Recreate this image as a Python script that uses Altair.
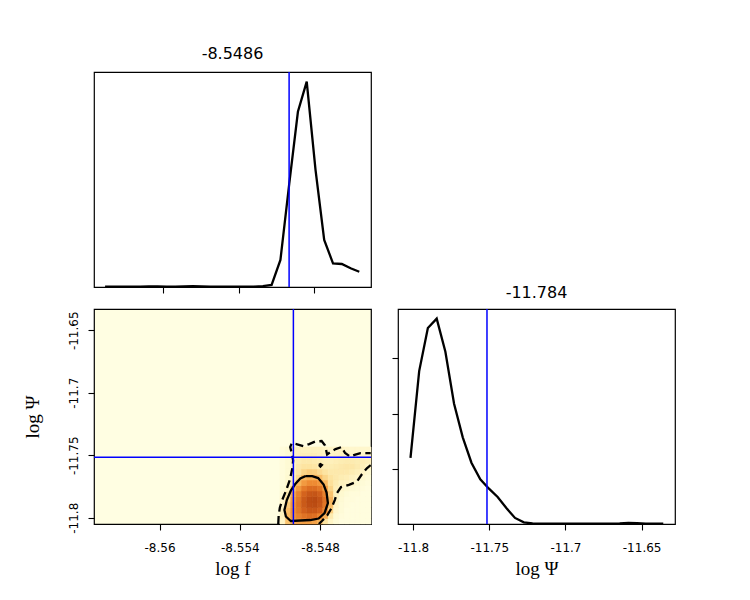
import altair as alt
import pandas as pd

# ---------------- marginal posterior of log f ----------------
logf_x = [-8.56463, -8.56393, -8.56324, -8.56254, -8.56184, -8.56115, -8.56045,
          -8.55975, -8.55905, -8.55836, -8.55766, -8.55696, -8.55627, -8.55557,
          -8.55487, -8.55418, -8.55348, -8.55278, -8.55208, -8.55139, -8.55069,
          -8.54999, -8.54930, -8.54860, -8.54790, -8.54721, -8.54651, -8.54581,
          -8.54511, -8.54442]
logf_density = [0.002, 0.002, 0.002, 0.002, 0.002, 0.003, 0.003, 0.002, 0.002,
                0.003, 0.004, 0.003, 0.002, 0.002, 0.002, 0.002, 0.002, 0.002,
                0.004, 0.010, 0.126, 0.480, 0.815, 0.955, 0.545, 0.219, 0.110,
                0.107, 0.087, 0.071]

# ---------------- marginal posterior of log Psi ----------------
logpsi_x = [-11.8017, -11.7960, -11.7903, -11.7845, -11.7788, -11.7731, -11.7674,
            -11.7617, -11.7559, -11.7502, -11.7445, -11.7388, -11.7331, -11.7273,
            -11.7216, -11.7159, -11.7102, -11.7045, -11.6987, -11.6930, -11.6873,
            -11.6816, -11.6759, -11.6701, -11.6644, -11.6587, -11.6530, -11.6473,
            -11.6415, -11.6358]
logpsi_density = [12.0, 27.7, 35.5, 37.2, 31.2, 21.8, 15.7, 11.1, 8.1, 6.4, 4.9,
                  2.9, 1.1, 0.3, 0.1, 0.05, 0.05, 0.05, 0.05, 0.05, 0.05, 0.05,
                  0.05, 0.05, 0.1, 0.2, 0.15, 0.05, 0.05, 0.05]

# ---------------- joint posterior (2D histogram) ----------------
cell_x_edges = [-8.5510, -8.5506, -8.5502, -8.5498, -8.5494, -8.5490, -8.5486,
                -8.5482, -8.5478, -8.5474, -8.5470, -8.5466, -8.5462, -8.5458,
                -8.5454, -8.5450, -8.5446, -8.5442]
cell_y_edges = [-11.8050, -11.8006, -11.7962, -11.7918, -11.7874, -11.7830,
                -11.7786, -11.7742, -11.7698, -11.7654, -11.7610, -11.7566,
                -11.7522, -11.7478, -11.7434]
# rows run from the lowest log Psi bin upwards, columns from left to right
joint_density = [
    [8, 30, 40, 44, 46, 46, 44, 36, 18, 8, 3, 1, 1, 1, 1, 1, 1],
    [10, 34, 50, 60, 68, 72, 70, 60, 38, 14, 4, 2, 1, 1, 1, 1, 1],
    [10, 32, 52, 66, 80, 88, 88, 80, 58, 26, 6, 3, 1, 1, 1, 1, 1],
    [8, 28, 50, 68, 86, 96, 98, 90, 66, 32, 8, 3, 2, 1, 1, 1, 1],
    [6, 22, 46, 66, 86, 97, 100, 92, 68, 34, 9, 4, 2, 2, 1, 1, 1],
    [4, 14, 40, 60, 78, 88, 90, 82, 60, 30, 10, 5, 3, 2, 2, 1, 1],
    [3, 8, 30, 48, 64, 72, 72, 66, 48, 24, 12, 7, 5, 4, 3, 2, 1],
    [2, 6, 14, 34, 48, 55, 55, 50, 34, 20, 14, 10, 9, 7, 5, 3, 2],
    [2, 5, 10, 22, 34, 38, 37, 32, 24, 18, 15, 13, 12, 10, 8, 5, 3],
    [2, 4, 9, 17, 24, 27, 26, 22, 18, 15, 15, 15, 15, 13, 11, 8, 5],
    [2, 4, 8, 15, 18, 18, 17, 14, 13, 13, 14, 15, 16, 16, 14, 11, 8],
    [2, 4, 8, 13, 15, 15, 14, 13, 11, 11, 12, 13, 14, 14, 13, 12, 11],
    [2, 4, 8, 11, 12, 12, 12, 11, 9, 8, 9, 10, 9, 8, 8, 8, 8],
    [2, 4, 9, 10, 10, 10, 10, 10, 8, 7, 8, 9, 7, 6, 6, 6, 6],
]

# credible-region contours of the joint posterior
inner_x = [-8.54908, -8.54859, -8.54815, -8.54774, -8.54752, -8.54742, -8.54767,
           -8.54811, -8.54874, -8.54948, -8.55019, -8.55056, -8.55067, -8.55049,
           -8.55019, -8.54986, -8.54948, -8.54908]
inner_y = [-11.76663, -11.76663, -11.76823, -11.77343, -11.77983, -11.78822,
           -11.79622, -11.80061, -11.80181, -11.80221, -11.80261, -11.79901,
           -11.79382, -11.78582, -11.77823, -11.77303, -11.76863, -11.76663]

outer_a_x = [-8.55113, -8.55110, -8.55101, -8.55082, -8.55052, -8.55026, -8.55008,
             -8.55002, -8.55011, -8.55024, -8.55011, -8.54978, -8.54926, -8.54882,
             -8.54837, -8.54789, -8.54763, -8.54748, -8.54718, -8.54685, -8.54640,
             -8.54614, -8.54577, -8.54537, -8.54499, -8.54422]
outer_a_y = [-11.80500, -11.79822, -11.79182, -11.78542, -11.77743, -11.76943,
             -11.76063, -11.75424, -11.74864, -11.74344, -11.74024, -11.74104,
             -11.74264, -11.74104, -11.73904, -11.73865, -11.74224, -11.74944,
             -11.74704, -11.74504, -11.74344, -11.74824, -11.75104, -11.74944,
             -11.74824, -11.74824]
outer_b_x = [-8.54422, -8.54451, -8.54488, -8.54525, -8.54585, -8.54644, -8.54674,
             -8.54690, -8.54715, -8.54748, -8.54785, -8.54810]
outer_b_y = [-11.75784, -11.76039, -11.76519, -11.77103, -11.77367, -11.77543,
             -11.78023, -11.78566, -11.79222, -11.79822, -11.80245, -11.80500]
outer_c_x = [-8.54809, -8.54798, -8.54787, -8.54798, -8.54809]
outer_c_y = [-11.75784, -11.75704, -11.75784, -11.75904, -11.75784]

# injected values and point estimates
truth_logf = -8.5500
truth_logpsi = -11.7515
estimate_logf = "-8.5486"
estimate_logpsi = "-11.784"

logf_ticks = [-8.56, -8.554, -8.548]
logpsi_ticks = [-11.8, -11.75, -11.7, -11.65]
logpsi_ticks_vertical = [-11.65, -11.7, -11.75, -11.8]
density_ticks = [10, 20, 30]

logf_domain_1d = [-8.56551, -8.54349]
logf_domain_2d = [-8.5649, -8.5442]
logpsi_domain_1d = [-11.8099, -11.6281]
logpsi_domain_2d = [-11.8050, -11.6330]

W, H = 277, 215
LINE_W = 2.3
TRUTH = "#0000ff"
LABEL_EXPR = "'' + datum.value"

# ---------------- tables ----------------
logf_df = pd.DataFrame({"x": logf_x, "d": logf_density})
logpsi_df = pd.DataFrame({"x": logpsi_x, "d": logpsi_density})

cells = []
for i, row in enumerate(joint_density):
    for j, v in enumerate(row):
        cells.append({"x0": cell_x_edges[j], "x1": cell_x_edges[j + 1],
                      "y0": cell_y_edges[i], "y1": cell_y_edges[i + 1], "v": v})
cells_df = pd.DataFrame(cells)

contour_rows = []
for piece, xs, ys, style in [("inner", inner_x, inner_y, "solid"),
                             ("outer_a", outer_a_x, outer_a_y, "dashed"),
                             ("outer_b", outer_b_x, outer_b_y, "dashed"),
                             ("outer_c", outer_c_x, outer_c_y, "dashed")]:
    for k, (cx, cy) in enumerate(zip(xs, ys)):
        contour_rows.append({"x": cx, "y": cy, "piece": piece, "k": k, "style": style})
contour_df = pd.DataFrame(contour_rows)

color_scale = alt.Scale(
    domain=[0, 8, 20, 35, 55, 75, 100],
    range=["#fffee2", "#fff5c6", "#fde09a", "#f9b45a", "#ee8b33", "#d8661e", "#b94a12"],
)

# ---------------- top-left: log f marginal ----------------
x_top = alt.X("x:Q", scale=alt.Scale(domain=logf_domain_1d, nice=False, zero=False),
              axis=alt.Axis(values=logf_ticks, labels=False, title=""))
top_line = alt.Chart(logf_df).mark_line(color="black", strokeWidth=LINE_W, clip=True).encode(
    x=x_top,
    y=alt.Y("d:Q", scale=alt.Scale(domain=[0, 1.0], nice=False), axis=None),
)
top_truth = alt.Chart(pd.DataFrame({"x": [truth_logf]})).mark_rule(
    color=TRUTH, strokeWidth=1.5).encode(x="x:Q")
top_panel = alt.layer(top_line, top_truth).properties(
    width=W, height=H, title=alt.TitleParams(estimate_logf, offset=9))

# ---------------- bottom-left: joint posterior ----------------
x_joint = alt.Scale(domain=logf_domain_2d, nice=False, zero=False)
y_joint = alt.Scale(domain=logpsi_domain_2d, nice=False, zero=False)
heat = alt.Chart(cells_df).mark_rect(strokeWidth=0.6).encode(
    x=alt.X("x0:Q", scale=x_joint,
            axis=alt.Axis(values=logf_ticks, labelExpr=LABEL_EXPR, title="log f")),
    x2="x1:Q",
    y=alt.Y("y0:Q", scale=y_joint,
            axis=alt.Axis(values=logpsi_ticks_vertical, labelExpr=LABEL_EXPR,
                          labelAngle=270, labelPadding=8, titlePadding=25,
                          title="log Ψ")),
    y2="y1:Q",
    color=alt.Color("v:Q", scale=color_scale, legend=None),
    stroke=alt.Stroke("v:Q", scale=color_scale, legend=None),
)
solid = alt.Chart(contour_df).transform_filter("datum.style == 'solid'").mark_line(
    color="black", strokeWidth=LINE_W, clip=True).encode(
    x="x:Q", y="y:Q", detail="piece:N", order="k:Q")
dashed = alt.Chart(contour_df).transform_filter("datum.style == 'dashed'").mark_line(
    color="black", strokeWidth=LINE_W, strokeDash=[8, 4.5], clip=True).encode(
    x="x:Q", y="y:Q", detail="piece:N", order="k:Q")
v_truth = alt.Chart(pd.DataFrame({"x": [truth_logf]})).mark_rule(
    color=TRUTH, strokeWidth=1.5).encode(x="x:Q")
h_truth = alt.Chart(pd.DataFrame({"y": [truth_logpsi]})).mark_rule(
    color=TRUTH, strokeWidth=1.5).encode(y="y:Q")
joint_panel = alt.layer(heat, solid, dashed, v_truth, h_truth).properties(
    width=W, height=H, view=alt.ViewBackground(fill="#fffee2", stroke="black", strokeWidth=1.2))

# ---------------- bottom-right: log Psi marginal ----------------
right_line = alt.Chart(logpsi_df).mark_line(color="black", strokeWidth=LINE_W, clip=True).encode(
    x=alt.X("x:Q", scale=alt.Scale(domain=logpsi_domain_1d, nice=False, zero=False),
            axis=alt.Axis(values=logpsi_ticks, labelExpr=LABEL_EXPR, title="log Ψ")),
    y=alt.Y("d:Q", scale=alt.Scale(domain=[0, 38.95], nice=False),
            axis=alt.Axis(values=density_ticks, labels=False, title="")),
)
right_truth = alt.Chart(pd.DataFrame({"x": [truth_logpsi]})).mark_rule(
    color=TRUTH, strokeWidth=1.5).encode(x="x:Q")
right_panel = alt.layer(right_line, right_truth).properties(
    width=W, height=H, title=alt.TitleParams(estimate_logpsi, offset=7))

bottom_row = alt.hconcat(joint_panel, right_panel, spacing=27, bounds="flush")
chart = alt.vconcat(top_panel, bottom_row, spacing=22, bounds="flush").properties(
    padding={"left": 22, "top": 45, "right": 10, "bottom": 10}
).configure_view(
    stroke="black", strokeWidth=1.2
).configure_axis(
    grid=False, domain=False, tickColor="black", tickSize=6, tickWidth=1.1,
    labelFont="DejaVu Sans", labelFontSize=12, labelColor="black", labelPadding=12,
    titleFont="Liberation Serif", titleFontSize=19, titleFontWeight="normal",
    titleColor="black", titlePadding=6,
).configure_title(
    font="DejaVu Sans", fontSize=16, fontWeight="normal", color="black",
)

chart.save("out.html", embed_options={"renderer": "svg", "actions": False})
